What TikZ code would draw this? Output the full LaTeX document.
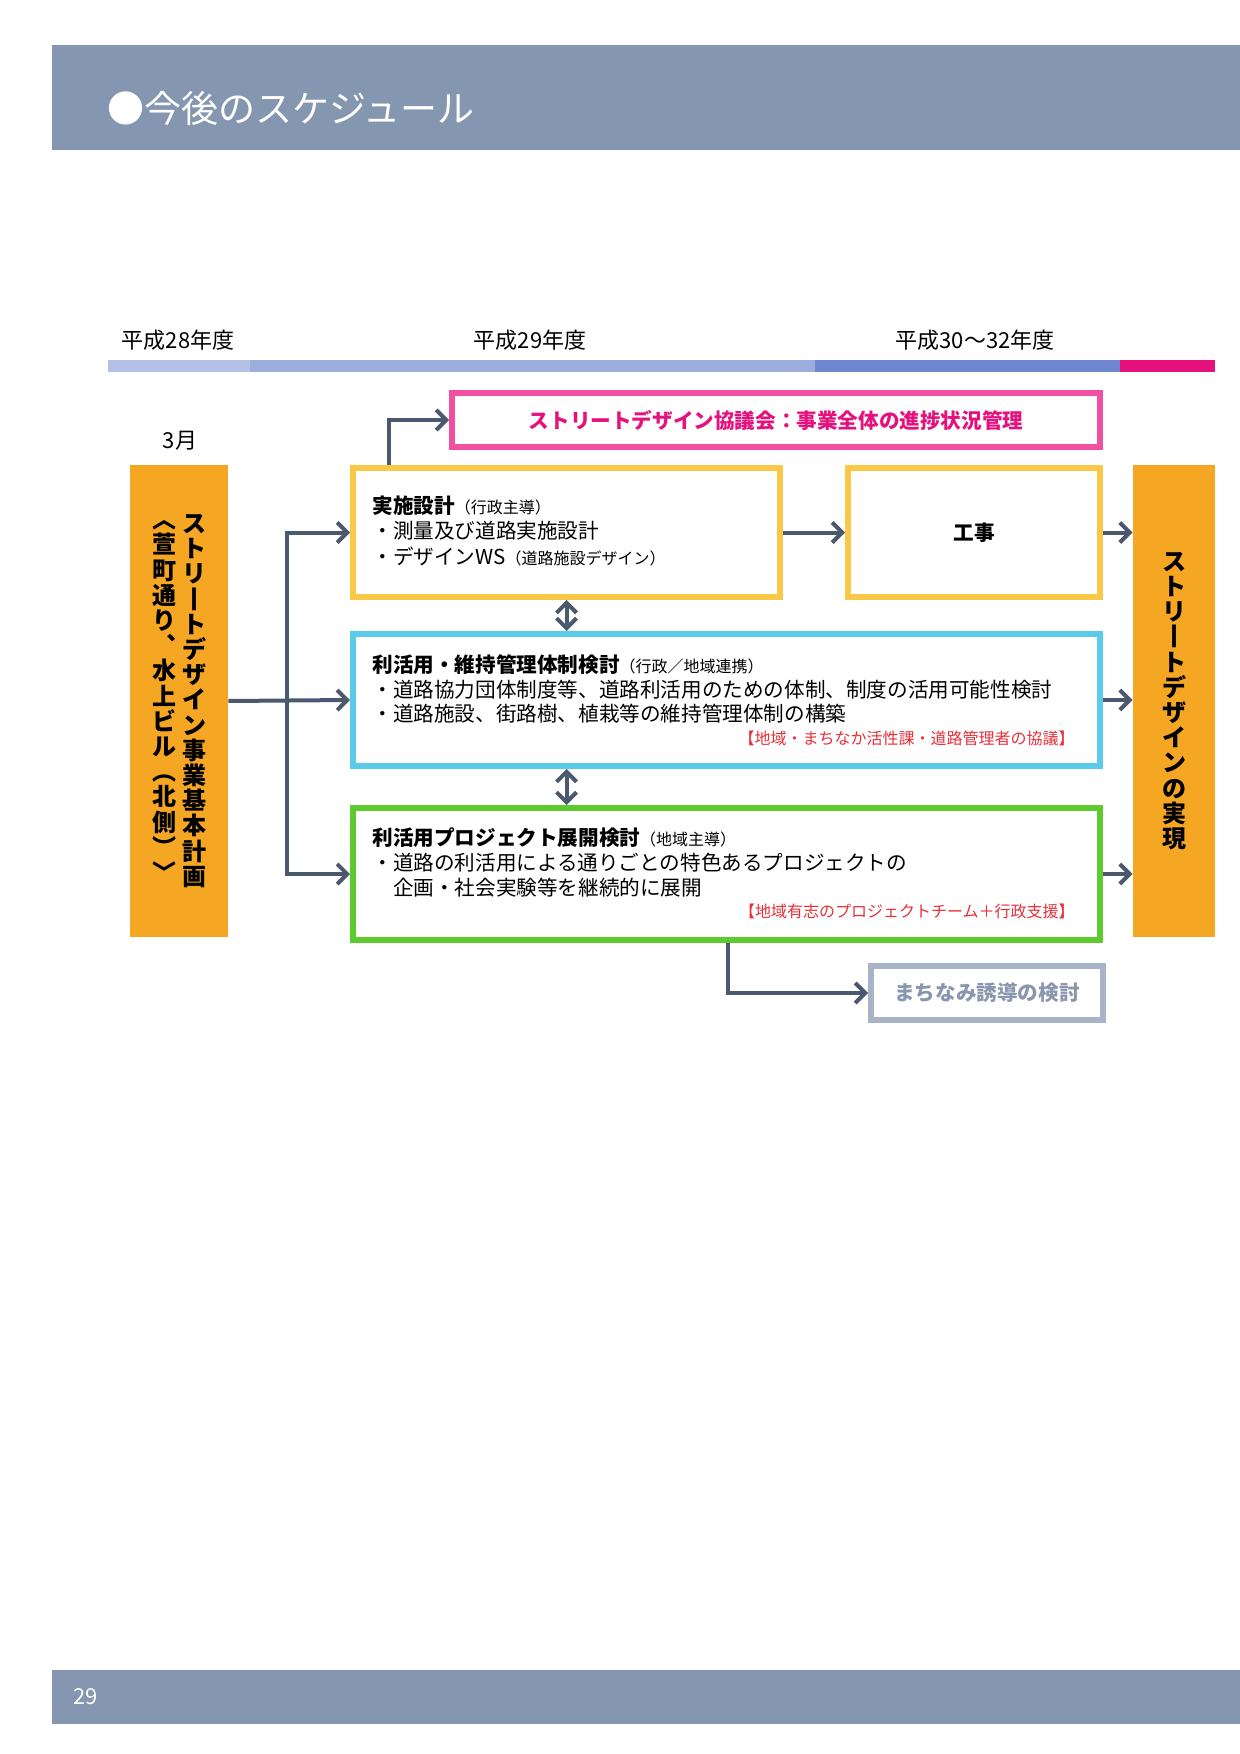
\documentclass[tikz,border=0pt]{standalone}
\usepackage{fontspec}
\setmainfont{Noto Sans CJK JP}
\usetikzlibrary{arrows.meta}
\definecolor{bandgray}{HTML}{8496B0}
\definecolor{linkgray}{HTML}{4A5870}
\definecolor{boxorange}{HTML}{F5A623}
\definecolor{pinkline}{HTML}{F0509F}
\definecolor{pinktext}{HTML}{E5127D}
\definecolor{yellowline}{HTML}{F9C846}
\definecolor{blueline}{HTML}{5BCBEA}
\definecolor{greenline}{HTML}{5DCB2E}
\definecolor{grayline}{HTML}{A9B3C8}
\definecolor{graytext}{HTML}{8A96AE}
\definecolor{notered}{HTML}{E8303A}
\definecolor{bar28}{HTML}{B4C0E6}
\definecolor{bar29}{HTML}{9DAEDD}
\definecolor{bar30}{HTML}{6E87D0}
\begin{document}
\begin{tikzpicture}[x=0.5pt,y=-0.5pt,
framebox/.style =
  {rectangle, line width=3pt, fill=white,
   minimum width=373.5pt, minimum height=66pt},
pillar/.style =
  {rectangle, fill=boxorange, minimum width=49pt, minimum height=236pt},
vtext/.style =
  {align=center, inner sep=0pt, font=\fontsize{12}{12.6}\selectfont\bfseries},
line/.style = {anchor=west, inner sep=0pt, font=\fontsize{10.3}{12}\selectfont},
note/.style = {anchor=east, inner sep=0pt, text=notered, font=\fontsize{8}{10}\selectfont},
link/.style = {draw=linkgray, line width=2pt, -{Straight Barb[length=5pt,width=10pt]}},
twoway/.style = {draw=linkgray, line width=2pt, {Straight Barb[length=5pt,width=10pt]}-{Straight Barb[length=5pt,width=10pt]}}
]
\useasboundingbox (0,0) rectangle (1240,1754);
\newcommand\paren[1]{{\fontsize{8}{10}\selectfont #1}}
% bands
\fill[bandgray] (52,45) rectangle (1240,150);
\node[anchor=west, text=white, font=\fontsize{18.5}{20}\selectfont] (title) at (100,108) {●今後のスケジュール};
\fill[bandgray] (52,1670) rectangle (1240,1724);
\node[anchor=west, text=white, font=\fontsize{11}{12}\selectfont] (page) at (66,1697) {29};
% timeline
\node[font=\fontsize{11}{12}\selectfont] (y28) at (178,340) {平成28年度};
\node[font=\fontsize{11}{12}\selectfont] (y29) at (530,340) {平成29年度};
\node[font=\fontsize{11}{12}\selectfont] (y30) at (975,340) {平成30～32年度};
\fill[bar28] (108,360) rectangle (250,372);
\fill[bar29] (250,360) rectangle (815,372);
\fill[bar30] (815,360) rectangle (1120,372);
\fill[pinktext] (1120,360) rectangle (1215,372);
\node[font=\fontsize{11}{12}\selectfont] (march) at (180,441) {3月};
% pillars
\node[pillar] (plan) at (179,701) {};
\node[vtext] (plantitle) at (194,701) {ス\\ト\\リ\\丨\\ト\\デ\\ザ\\イ\\ン\\事\\業\\基\\本\\計\\画};
\node[vtext] (planarea) at (164,701) {︿\\萱\\町\\通\\り\\︑\\水\\上\\ビ\\ル\\︵\\北\\側\\︶\\﹀};
\node[pillar, minimum width=41pt] (goal) at (1174,701) {};
\node[vtext] (goaltext) at (1174,701) {ス\\ト\\リ\\丨\\ト\\デ\\ザ\\イ\\ン\\の\\実\\現};
% boxes
\node[framebox, draw=pinkline, minimum width=324pt, minimum height=27pt,
  text=pinktext, font=\fontsize{10.3}{12}\selectfont\bfseries] (council) at (776,420) {ストリートデザイン協議会：事業全体の進捗状況管理};
\node[framebox, draw=yellowline, minimum width=213.5pt, minimum height=64.5pt] (design) at (566.5,532.5) {};
\node[framebox, draw=yellowline, minimum width=126pt, minimum height=64.5pt,
  font=\fontsize{10.3}{12}\selectfont\bfseries] (works) at (974,532.5) {工事};
\node[framebox, draw=blueline] (manage) at (726.5,700) {};
\node[framebox, draw=greenline] (project) at (726.5,874) {};
\node[framebox, draw=grayline, minimum width=116pt, minimum height=27pt,
  text=graytext, font=\fontsize{10.3}{12}\selectfont\bfseries] (townscape) at (987,993) {まちなみ誘導の検討};
% texts
\node[line] (d1) at (372,506) {\textbf{実施設計}\paren{（行政主導）}};
\node[line] (d2) at (372,531) {・測量及び道路実施設計};
\node[line] (d3) at (372,556) {・デザインWS\paren{（道路施設デザイン）}};
\node[line] (m1) at (372,665) {\textbf{利活用・維持管理体制検討}\paren{（行政／地域連携）}};
\node[line] (m2) at (372,690) {・道路協力団体制度等、道路利活用のための体制、制度の活用可能性検討};
\node[line] (m3) at (372,714) {・道路施設、街路樹、植栽等の維持管理体制の構築};
\node[note] (m4) at (1075,738) {【地域・まちなか活性課・道路管理者の協議】};
\node[line] (p1) at (372,838) {\textbf{利活用プロジェクト展開検討}\paren{（地域主導）}};
\node[line] (p2) at (372,863) {・道路の利活用による通りごとの特色あるプロジェクトの};
\node[line] (p3) at (372,888) {　企画・社会実験等を継続的に展開};
\node[note] (p4) at (1075,911) {【地域有志のプロジェクトチーム＋行政支援】};
% connectors
\coordinate (fork) at (287,700);
\draw[link] (plan.east) -- (manage.west);
\draw[link] (fork) |- (design.west);
\draw[link] (fork) |- (project.west);
\draw[link] ([xshift=-89pt]design.north) |- (council.west);
\draw[link] (design.east) -- (works.west);
\draw[link] (works.east) -- (goal.west |- works.east);
\draw[link] (manage.east) -- (goal.west |- manage.east);
\draw[link] (project.east) -- (goal.west |- project.east);
\draw[twoway] (design.south) -- (design.south |- manage.north);
\draw[twoway] (design.south |- manage.south) -- (design.south |- project.north);
\draw[link] ([xshift=0.5pt]project.south) |- (townscape.west);
\end{tikzpicture}
\end{document}
